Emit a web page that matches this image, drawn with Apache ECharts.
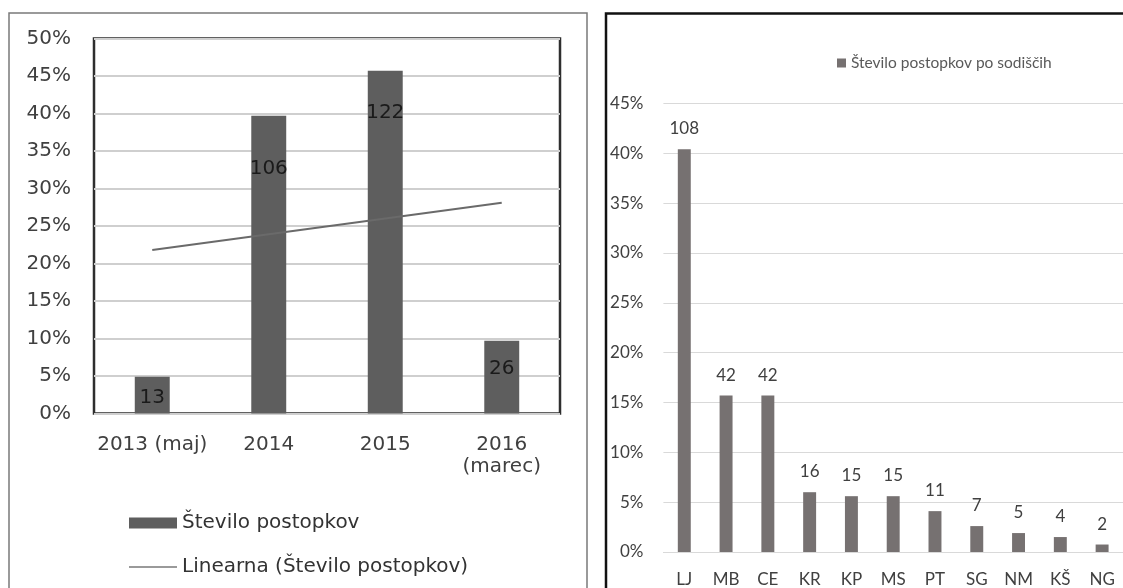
<!DOCTYPE html>
<html>
<head>
<meta charset="utf-8">
<script src="https://cdn.jsdelivr.net/npm/echarts@6/dist/echarts.min.js"></script>
<style>
html,body{margin:0;padding:0;background:#fff;}
#c{width:1123px;height:588px;}
</style>
</head>
<body>
<div id="c"></div>
<script>
// ---- Left chart data ----
const leftCategories = ['2013 (maj)', '2014', '2015', '2016\n(marec)'];
const leftPercent = [4.9, 39.7, 45.7, 9.7];
const leftCounts = [13, 106, 122, 26];
const leftTrend = [21.8, null, null, 28.1];
const leftTicks = [0, 5, 10, 15, 20, 25, 30, 35, 40, 45, 50];

// ---- Right chart data ----
const rightCategories = ['LJ', 'MB', 'CE', 'KR', 'KP', 'MS', 'PT', 'SG', 'NM', 'KŠ', 'NG'];
const rightPercent = [40.4, 15.7, 15.7, 6.0, 5.6, 5.6, 4.1, 2.6, 1.9, 1.5, 0.75];
const rightCounts = [108, 42, 42, 16, 15, 15, 11, 7, 5, 4, 2];
const rightTicks = [0, 5, 10, 15, 20, 25, 30, 35, 40, 45];

// label placement inside left bars (px from bar top to label centre) - style only
const leftLabelOffsets = [21, 53, 42, 28];

const LF = 'DejaVu Sans';
const RF = 'Lato';

const chart = echarts.init(document.getElementById('c'), null, {renderer: 'canvas'});

const option = {
  animation: false,
  backgroundColor: '#ffffff',
  grid: [
    {left: 94, top: 38.5, width: 466, height: 375, show: true, borderColor: '#2e2e2e', borderWidth: 2.5, backgroundColor: 'transparent'},
    {left: 663.4, top: 103.5, width: 469.2, height: 450.5}
  ],
  xAxis: [
    {
      type: 'category', gridIndex: 0, data: leftCategories,
      axisTick: {show: false}, axisLine: {show: false},
      axisLabel: {fontFamily: LF, fontSize: 20, color: '#404040', margin: 20, lineHeight: 22, interval: 0}
    },
    {
      type: 'category', gridIndex: 1, data: rightCategories,
      axisTick: {show: false},
      axisLine: {show: true, lineStyle: {color: '#d9d9d9', width: 1}},
      axisLabel: {fontFamily: RF, fontSize: 17, color: '#404040', margin: 19, interval: 0}
    }
  ],
  yAxis: [
    {
      type: 'value', gridIndex: 0, min: leftTicks[0], max: leftTicks[leftTicks.length - 1], interval: 5,
      axisLine: {show: false}, axisTick: {show: false},
      splitLine: {show: true, lineStyle: {color: '#cfcfcf', width: 2}},
      axisLabel: {fontFamily: LF, fontSize: 20, color: '#404040', margin: 23, formatter: v => v + '%'}
    },
    {
      type: 'value', gridIndex: 1, min: rightTicks[0], max: rightTicks[rightTicks.length - 1], interval: 5,
      axisLine: {show: false}, axisTick: {show: false},
      splitLine: {show: true, lineStyle: {color: '#d9d9d9', width: 1}},
      axisLabel: {fontFamily: RF, fontSize: 17, color: '#404040', margin: 20, formatter: v => v + '%'}
    }
  ],
  legend: [
    {
      orient: 'vertical', left: 128, top: 513, itemGap: 24, padding: 0,
      itemWidth: 48, itemHeight: 11,
      textStyle: {fontFamily: LF, fontSize: 20, color: '#333333'},
      data: [
        {name: 'Število postopkov', icon: 'rect'},
        {name: 'Linearna (Število postopkov)', lineStyle: {color: '#9a9a9a', width: 2}, itemStyle: {opacity: 0}}
      ]
    },
    {
      left: 837, top: 55, itemWidth: 9, itemHeight: 9, itemGap: 10, padding: 0,
      textStyle: {fontFamily: RF, fontSize: 15.5, color: '#595959'},
      data: [{name: 'Število postopkov po sodiščih', icon: 'rect'}]
    }
  ],
  series: [
    {
      name: 'Število postopkov', type: 'bar', xAxisIndex: 0, yAxisIndex: 0,
      barWidth: '30%',
      itemStyle: {color: '#5e5e5e'},
      data: leftPercent.map((v, i) => ({
        value: v,
        label: {
          show: true, position: ['50%', leftLabelOffsets[i]], align: 'center', verticalAlign: 'middle',
          fontFamily: LF, fontSize: 20, color: '#1a1a1a',
          formatter: () => String(leftCounts[i])
        }
      })),
      z: 2
    },
    {
      name: 'Linearna (Število postopkov)', type: 'line', xAxisIndex: 0, yAxisIndex: 0,
      data: leftTrend, connectNulls: true, symbol: 'none', showSymbol: false,
      lineStyle: {color: '#6a6a6a', width: 2},
      itemStyle: {color: '#9a9a9a'},
      z: 3
    },
    {
      name: 'Število postopkov po sodiščih', type: 'bar', xAxisIndex: 1, yAxisIndex: 1,
      barWidth: '31%',
      itemStyle: {color: '#767171'},
      label: {
        show: true, position: 'top', distance: 12,
        fontFamily: RF, fontSize: 17, color: '#404040',
        formatter: p => String(rightCounts[p.dataIndex])
      },
      data: rightPercent
    }
  ],
  graphic: [
    {
      type: 'rect', shape: {x: 9, y: 13, width: 578, height: 620},
      style: {fill: 'none', stroke: '#7a7a7a', lineWidth: 1.5}, silent: true
    },
    {
      type: 'polyline', shape: {points: [[606, 620], [606, 13.5], [1130, 13.5]]},
      style: {fill: 'none', stroke: '#111111', lineWidth: 2.5}, silent: true
    }
  ]
};

chart.setOption(option);
</script>
</body>
</html>
